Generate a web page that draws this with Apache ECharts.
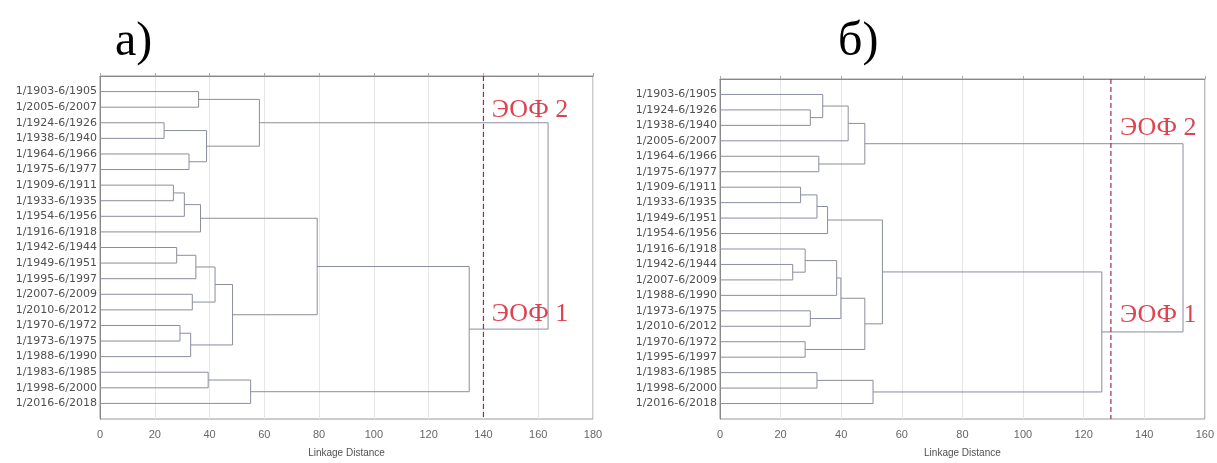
<!DOCTYPE html>
<html>
<head>
<meta charset="utf-8">
<script src="https://cdn.jsdelivr.net/npm/echarts@6/dist/echarts.min.js"></script>
<style>
  html, body { margin: 0; padding: 0; background: #fff; }
  #chart { width: 1217px; height: 463px; }
</style>
</head>
<body>
<div id="chart"></div>
<script>
// leaf labels, top to bottom
var leavesA = ['1/1903-6/1905', '1/2005-6/2007', '1/1924-6/1926', '1/1938-6/1940', '1/1964-6/1966', '1/1975-6/1977',
  '1/1909-6/1911', '1/1933-6/1935', '1/1954-6/1956', '1/1916-6/1918', '1/1942-6/1944', '1/1949-6/1951',
  '1/1995-6/1997', '1/2007-6/2009', '1/2010-6/2012', '1/1970-6/1972', '1/1973-6/1975', '1/1988-6/1990',
  '1/1983-6/1985', '1/1998-6/2000', '1/2016-6/2018'];
var leavesB = ['1/1903-6/1905', '1/1924-6/1926', '1/1938-6/1940', '1/2005-6/2007', '1/1964-6/1966', '1/1975-6/1977',
  '1/1909-6/1911', '1/1933-6/1935', '1/1949-6/1951', '1/1954-6/1956', '1/1916-6/1918', '1/1942-6/1944',
  '1/2007-6/2009', '1/1988-6/1990', '1/1973-6/1975', '1/2010-6/2012', '1/1970-6/1972', '1/1995-6/1997',
  '1/1983-6/1985', '1/1998-6/2000', '1/2016-6/2018'];

// merges: [node, node, linkage distance]; leaves are 0..20, merge k makes node 21+k
var mergesA = [[0, 1, 36], [2, 3, 23.4], [4, 5, 32.5], [22, 23, 38.9], [21, 24, 58.2],
  [6, 7, 26.8], [26, 8, 30.8], [27, 9, 36.7],
  [10, 11, 28], [29, 12, 35], [13, 14, 33.7], [30, 31, 42], [15, 16, 29.2], [33, 17, 33.1], [32, 34, 48.4],
  [28, 35, 79.3], [18, 19, 39.5], [37, 20, 55], [36, 38, 134.8], [25, 39, 163.6]];
var mergesB = [[1, 2, 29.8], [0, 21, 33.9], [22, 3, 42.3], [4, 5, 32.6], [23, 24, 47.8],
  [6, 7, 26.6], [26, 8, 32], [27, 9, 35.5],
  [11, 12, 24], [10, 29, 28.1], [30, 13, 38.5], [14, 15, 29.8], [31, 32, 39.9], [16, 17, 28.1], [33, 34, 47.8],
  [28, 35, 53.6], [18, 19, 32], [37, 20, 50.5], [36, 38, 126], [25, 39, 152.8]];

var cutA = 140;
var cutB = 129;
var annotA = [[143, 2.2, 'ЭОФ 2'], [143, 15.3, 'ЭОФ 1']];
var annotB = [[132, 3.2, 'ЭОФ 2'], [132, 15.25, 'ЭОФ 1']];

// turn merges into U-shaped polylines
function dendro(merges, n) {
  var Y = [], H = [], segs = [];
  for (var i = 0; i < n; i++) { Y.push(i + 1); H.push(0); }
  merges.forEach(function (m) {
    var a = m[0], b = m[1], h = m[2];
    segs.push({ coords: [[H[a], Y[a]], [h, Y[a]], [h, Y[b]], [H[b], Y[b]]] });
    Y.push((Y[a] + Y[b]) / 2);
    H.push(h);
  });
  return segs;
}

var lineCol = '#8a8e9c';
var txtCol = '#505050';

function xAx(idx, max) {
  return {
    type: 'value', gridIndex: idx, min: 0, max: max, interval: 20,
    name: 'Linkage Distance', nameLocation: 'middle', nameGap: 29,
    nameTextStyle: { fontFamily: 'Liberation Sans', fontSize: 10, color: txtCol },
    axisLine: { lineStyle: { color: '#888' } },
    axisTick: { inside: true, length: 3, lineStyle: { color: '#aaa' } },
    axisLabel: { fontFamily: 'Liberation Sans', fontSize: 11, color: '#666', margin: 10 },
    splitLine: { show: true, lineStyle: { color: '#e6e6e6' } }
  };
}
function yAx(idx, names) {
  return {
    type: 'value', gridIndex: idx, min: 0, max: 22, interval: 1, inverse: true,
    axisLine: { lineStyle: { color: '#888' } },
    axisTick: { show: false },
    axisLabel: {
      fontFamily: 'DejaVu Sans', fontSize: 11, color: txtCol, margin: 3,
      formatter: function (v) { return names[v - 1] || ''; }
    },
    splitLine: { show: false }
  };
}
function treeSeries(idx, merges, n) {
  return {
    type: 'lines', coordinateSystem: 'cartesian2d', polyline: true,
    xAxisIndex: idx, yAxisIndex: idx, silent: true,
    lineStyle: { color: lineCol, width: 1, opacity: 1 },
    data: dendro(merges, n)
  };
}
function cutSeries(idx, x) {
  return {
    type: 'line', xAxisIndex: idx, yAxisIndex: idx, symbol: 'none', silent: true,
    lineStyle: { color: '#a02c48', width: 1.2, type: [5, 3] },
    data: [[x, 0], [x, 22]]
  };
}
function annotSeries(idx, list) {
  return {
    type: 'scatter', xAxisIndex: idx, yAxisIndex: idx, symbolSize: 0, silent: true,
    label: {
      show: true, position: 'right', distance: 0,
      fontFamily: 'Liberation Serif', fontSize: 26, color: '#d41424',
      formatter: function (p) { return p.data[2]; }
    },
    data: list
  };
}

var chart = echarts.init(document.getElementById('chart'));
chart.setOption({
  animation: false,
  title: [
    { text: 'а)', left: 110, top: 13, textStyle: { fontFamily: 'Liberation Serif', fontSize: 48, fontWeight: 'normal', color: '#000' } },
    { text: 'б)', left: 833, top: 13, textStyle: { fontFamily: 'Liberation Serif', fontSize: 48, fontWeight: 'normal', color: '#000' } }
  ],
  grid: [
    { left: 100, top: 76, width: 493, height: 343, show: true, borderColor: '#999', borderWidth: 1 },
    { left: 720, top: 79, width: 488, height: 342, show: true, borderColor: '#999', borderWidth: 1 }
  ],
  xAxis: [xAx(0, 180), xAx(1, 160)],
  yAxis: [yAx(0, leavesA), yAx(1, leavesB)],
  series: [
    treeSeries(0, mergesA, leavesA.length),
    treeSeries(1, mergesB, leavesB.length),
    cutSeries(0, cutA),
    cutSeries(1, cutB),
    annotSeries(0, annotA),
    annotSeries(1, annotB)
  ]
});
</script>
</body>
</html>
